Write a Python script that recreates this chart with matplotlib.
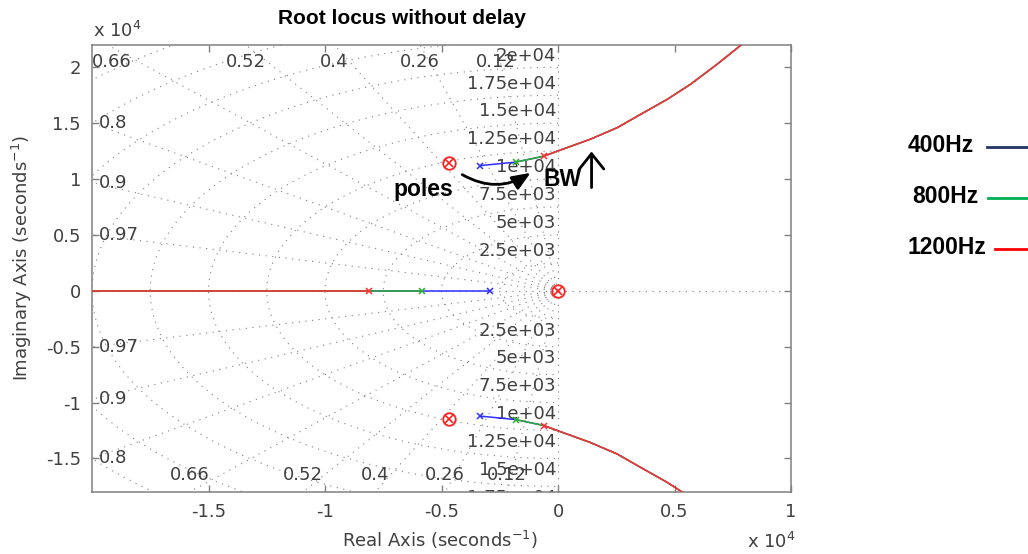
import numpy as np
import matplotlib
matplotlib.use("Agg")
import matplotlib.pyplot as plt
from matplotlib.lines import Line2D
from matplotlib.patches import FancyArrowPatch

# root locus data (seconds^-1), upper half; lower half is the conjugate
series = ["400Hz", "800Hz", "1200Hz"]
pole_cplx_re = [-3330, -1820, -610]
pole_cplx_im = [11210, 11520, 12050]
pole_real = [-2900, -5830, -8120]
locus_re = [-30, 1390, 2540, 3540, 4690, 5690, 6830, 7900, 8760]
locus_im = [12500, 13570, 14600, 15790, 17140, 18490, 20280, 22070, 23500]
zero_re = [-4690, -4690, 0]
zero_im = [11450, -11450, 0]

locus_colors = ["#2f2fff", "#2fae2f", "#ff3030"]
legend_colors = ["#1f3864", "#00b050", "#ff0000"]

zeta_vals = [0.12, 0.26, 0.4, 0.52, 0.66, 0.8, 0.9, 0.97]
wn_vals = [2500, 5000, 7500, 10000, 12500, 15000, 17500, 20000, 22500, 25000, 27500, 30000]
wn_labels = ["2.5e+03", "5e+03", "7.5e+03", "1e+04", "1.25e+04", "1.5e+04",
             "1.75e+04", "2e+04", "2.25e+04", "2.5e+04", "2.75e+04", "3e+04"]

xticks = [-15000, -10000, -5000, 0, 5000, 10000]
xticklabels = ["-1.5", "-1", "-0.5", "0", "0.5", "1"]
yticks = [-15000, -10000, -5000, 0, 5000, 10000, 15000, 20000]
yticklabels = ["-1.5", "-1", "-0.5", "0", "0.5", "1", "1.5", "2"]

XMIN, XMAX = -20000, 10000
YMIN, YMAX = -18000, 22000
W, H = 1028, 554
GRAY = "#404040"
GRID = "#7f7f7f"

plt.rcParams["font.family"] = "DejaVu Sans"


def px(x, y):
    return x / W, 1 - y / H


fig = plt.figure(figsize=(W / 100, H / 100), dpi=100)
l, b = px(92, 492)
r, t = px(791, 45)
ax = fig.add_axes([l, b, r - l, t - b])
ax.set_xlim(XMIN, XMAX)
ax.set_ylim(YMIN, YMAX)

# sgrid: damping lines, natural frequency arcs
dot = (0, (1, 5))
for z in zeta_vals:
    ang = np.arccos(z)
    R = 40000
    ax.plot([0, -R * np.cos(ang)], [0, R * np.sin(ang)], color=GRID, lw=0.8, ls=dot, zorder=1)
    ax.plot([0, -R * np.cos(ang)], [0, -R * np.sin(ang)], color=GRID, lw=0.8, ls=dot, zorder=1)
th = np.linspace(np.pi / 2, 3 * np.pi / 2, 300)
for wn in wn_vals:
    ax.plot(wn * np.cos(th), wn * np.sin(th), color=GRID, lw=0.8, ls=dot, zorder=1)
ax.plot([XMIN, XMAX], [0, 0], color=GRID, lw=0.8, ls=dot, zorder=1)
ax.plot([0, 0], [YMIN, YMAX], color=GRID, lw=0.8, ls=dot, zorder=1)

lab_kw = dict(color=GRAY, fontsize=13, clip_on=True, zorder=2)
for z in zeta_vals:
    k = z / np.sqrt(1 - z ** 2)
    if z < 0.7:
        xt = max(-YMAX * k, XMIN + 850)
        ax.text(xt, YMAX - 1500, f"{z:g}", ha="center", va="center", **lab_kw)
        xb = max(YMIN * k, XMIN + 850)
        ax.text(xb, YMIN + 1500, f"{z:g}", ha="center", va="center", **lab_kw)
    else:
        yl = -XMIN / k
        ax.text(XMIN + 300, yl, f"{z:g}", ha="left", va="center", **lab_kw)
        ax.text(XMIN + 300, -yl, f"{z:g}", ha="left", va="center", **lab_kw)
# frequency labels along the imaginary axis (only those at least partly inside)
for wn, lab in zip(wn_vals, wn_labels):
    if wn + 1050 < YMAX:
        ax.text(-80, wn + 1050, lab, ha="right", va="center", **lab_kw)
    if -wn - 1050 > YMIN - 800:
        ax.text(-80, -wn - 1050, lab, ha="right", va="center", **lab_kw)

# locus branches
for i, c in enumerate(locus_colors):
    bre = pole_cplx_re[i:] + locus_re
    bim = pole_cplx_im[i:] + locus_im
    ax.plot(bre, bim, color=c, lw=1.1, zorder=3)
    ax.plot(bre, [-v for v in bim], color=c, lw=1.1, zorder=3)
    ax.plot([pole_real[i], XMIN - 2000], [0, 0], color=c, lw=1.1, zorder=3)
    ax.plot([pole_cplx_re[i]] * 2 + [pole_real[i]],
            [pole_cplx_im[i], -pole_cplx_im[i], 0],
            ls="none", marker="x", ms=5, mew=1.1, color=c, zorder=4)

ax.plot(zero_re, zero_im, ls="none", marker="o", ms=9, mfc="none", mec="#ff2020", mew=1.3, zorder=5)
ax.plot(zero_re, zero_im, ls="none", marker="x", ms=5.5, mew=1.2, color="#ff2020", zorder=5)

# frame
for s in ax.spines.values():
    s.set_color("#808080")
    s.set_linewidth(1.1)
ax.set_xticks(xticks)
ax.set_xticklabels(xticklabels)
ax.set_yticks(yticks)
ax.set_yticklabels(yticklabels)
ax.tick_params(direction="in", length=5, width=1, color="#808080", labelcolor=GRAY,
               labelsize=13, top=True, right=True, pad=8)

# annotations
bold = dict(family="Liberation Sans", weight="bold", color="black")
ax.text(-5770, 9060, "poles", ha="center", va="center", fontsize=16.5, zorder=6, **bold)
ax.add_patch(FancyArrowPatch((-4110, 10400), (-1180, 10560), connectionstyle="arc3,rad=0.3",
                             arrowstyle="-|>,head_length=1.1,head_width=0.45", mutation_scale=10,
                             shrinkA=0, shrinkB=0, lw=2, color="black", zorder=6))
ax.text(190, 9950, "BW", ha="center", va="center", fontsize=16.5, zorder=6, **bold)
ax.add_patch(FancyArrowPatch((1440, 9240), (1440, 12470), arrowstyle="->,head_length=0.5,head_width=0.4",
                             mutation_scale=22, shrinkA=0, shrinkB=0, lw=2, color="black", zorder=6))

# outer texts
fig.text(*px(402, 18), "Root locus without delay", ha="center", va="center", fontsize=15, **bold)
fig.text(*px(93, 31), r"x 10$^4$", ha="left", va="center", fontsize=13, color=GRAY)
fig.text(*px(747, 542), r"x 10$^4$", ha="left", va="center", fontsize=13, color=GRAY)
fig.text(*px(440, 540), r"Real Axis (seconds$^{-1}$)", ha="center", va="center", fontsize=13, color=GRAY)
fig.text(*px(22, 258), r"Imaginary Axis (seconds$^{-1}$)", ha="center", va="center",
         rotation=90, fontsize=13, color=GRAY)

# side legend
leg_y = [146, 197, 248]
leg_tx = [941, 945, 947]
leg_x0 = [987, 988, 995]
for name, c, y, tx, x0 in zip(series, legend_colors, leg_y, leg_tx, leg_x0):
    fig.text(*px(tx, y), name, ha="center", va="center", fontsize=16.5, **bold)
    xa, ya = px(x0, y + 1)
    xb, _ = px(1028, y + 1)
    fig.add_artist(Line2D([xa, xb], [ya, ya], color=c, lw=2))

fig.savefig("out.png", dpi=100)
